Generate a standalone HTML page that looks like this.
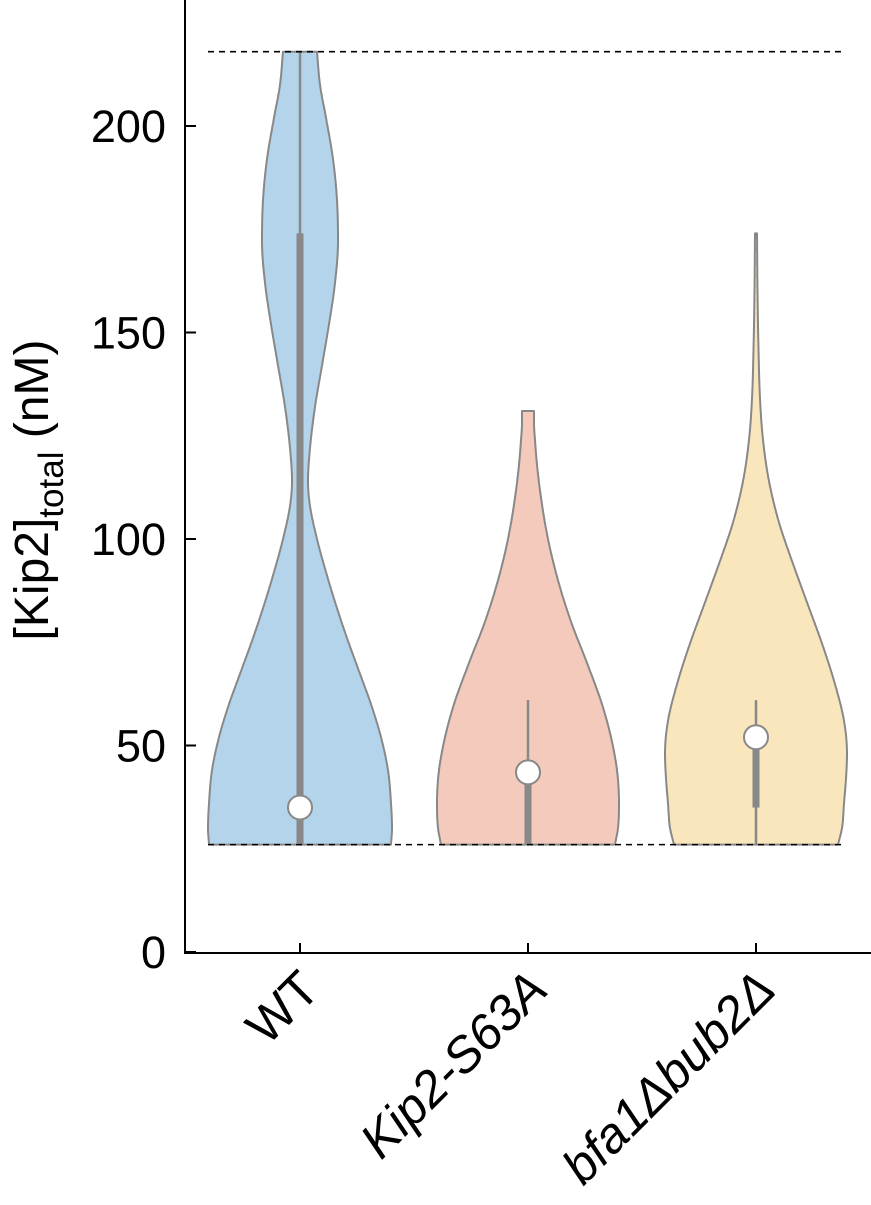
<!DOCTYPE html>
<html><head><meta charset="utf-8"><style>
html,body{margin:0;padding:0;background:#fff;}
svg{display:block;font-family:"Liberation Sans","DejaVu Sans",sans-serif;}
</style></head><body>
<svg id="chart" width="871" height="1205" viewBox="0 0 871 1205" xmlns="http://www.w3.org/2000/svg">
<g id="grid"></g>
<g id="axes"></g>
<text transform="translate(48,490) rotate(-90)" text-anchor="middle" font-size="48" fill="#000">[Kip2]<tspan font-size="35" dy="15">total</tspan><tspan dy="-15"> (nM)</tspan></text>
</svg>
<script>
const categories = ["WT","Kip2-S63A","bfa1\u0394bub2\u0394"];
const colors = ["#b3d4ea","#f3cabb","#f9e6bd"];
const wtVals = [26,30,36,44,52,60,68,76,84,92,100,108,114,122,132,142,152,162,172,182,192,202,210,218];
const wtW    = [91,92,91,88,81,71,59,47,36,26,17,10,8,10,15,22,29,35,38,37,33,26,20,17];
const kipVals = [26,30,36,44,52,60,70,80,90,100,110,118,124,128,131];
const kipW    = [87,90,91,89,83,74,59,43,30,20,13,9,7,6,6];
const bfaVals = [26,30,36,42,48,56,64,74,84,94,104,114,124,134,146,160,174];
const bfaW    = [82,86,88,90,91,88,80,67,52,37,23,13,7,4,2.5,1.5,1];
const medians = [35,43.5,52];
const q1 = [26,26,35];
const q3 = [174,43,52];
const whiskLo = [26,26,26];
const whiskHi = [218,61,61];
const yTicks = [0,50,100,150,200];
const refLines = [218,26];

const svg = document.getElementById('chart');
const layer = document.getElementById('grid');
const axes = document.getElementById('axes');
const NS = 'http://www.w3.org/2000/svg';
const y = v => 952 - v * 4.13;
const x = i => 300 + i * 228;
function mk(tag, attrs, parent){const e=document.createElementNS(NS,tag);for(const k in attrs)e.setAttribute(k,attrs[k]);(parent||svg).appendChild(e);return e;}

function interp(xs, ys){
  const n=xs.length, d=[], m=[];
  for(let i=0;i<n-1;i++) d.push((ys[i+1]-ys[i])/(xs[i+1]-xs[i]));
  m[0]=d[0]; m[n-1]=d[n-2];
  for(let i=1;i<n-1;i++){ m[i]=(d[i-1]*d[i]<=0)?0:(d[i-1]+d[i])/2; }
  return t=>{
    let i=0; while(i<n-2 && t>xs[i+1]) i++;
    const h=xs[i+1]-xs[i], s=(t-xs[i])/h;
    const h00=2*s*s*s-3*s*s+1,h10=s*s*s-2*s*s+s,h01=-2*s*s*s+3*s*s,h11=s*s*s-s*s;
    return h00*ys[i]+h10*h*m[i]+h01*ys[i+1]+h11*h*m[i+1];
  };
}
const profiles = [[wtVals,wtW],[kipVals,kipW],[bfaVals,bfaW]];
profiles.forEach((p,i)=>{
  const [vals,w]=p, cx=x(i), f=interp(vals,w);
  const lo=vals[0], hi=vals[vals.length-1], R=[], L=[];
  for(let v=lo; v<=hi+1e-9; v+=0.25){ const ww=Math.max(f(Math.min(v,hi)),0.5); R.push([cx+ww,y(v)]); L.push([cx-ww,y(v)]); }
  let d='M'+R.map(q=>q[0].toFixed(1)+','+q[1].toFixed(1)).join(' L')+' L'+L.reverse().map(q=>q[0].toFixed(1)+','+q[1].toFixed(1)).join(' L')+'Z';
  const v=mk('path',{d,fill:colors[i],stroke:'#888',"stroke-width":2,"stroke-linejoin":"round"},layer);
  
  
  const wl=mk('line',{x1:cx,x2:cx,y1:y(whiskLo[i]),y2:y(whiskHi[i]),stroke:'#888',"stroke-width":2.5},layer);
  
  
  const bx=mk('line',{x1:cx,x2:cx,y1:y(q1[i]),y2:y(q3[i]),stroke:'#888',"stroke-width":7},layer);
  
  
  const c=mk('circle',{cx,cy:y(medians[i]),r:12,fill:'#fff',stroke:'#888',"stroke-width":2},layer);
  
  
});
refLines.forEach((v,k)=>{
  const l=mk('line',{x1:208,x2:842,y1:y(v),y2:y(v),stroke:'#000',"stroke-width":1.6,"stroke-dasharray":"6,5"},layer);
  
  
});
const ya=mk('line',{x1:185,x2:185,y1:0,y2:953,stroke:'#000',"stroke-width":2},axes);


const xa=mk('line',{x1:184,x2:871,y1:953,y2:953,stroke:'#000',"stroke-width":2},axes);


yTicks.forEach(t=>{
  const tk=mk('line',{x1:185,x2:196,y1:y(t),y2:y(t),stroke:'#000',"stroke-width":2},axes);
  
  
  const tl=mk('text',{x:166,y:y(t)+16,"text-anchor":"end","font-size":45},axes);
  tl.textContent=t;
  
  
});
categories.forEach((c,i)=>{
  const tk=mk('line',{x1:x(i),x2:x(i),y1:953,y2:943,stroke:'#000',"stroke-width":2},axes);
  
  
  const tl=mk('text',{transform:`translate(${x(i)+22},${992}) rotate(-45)`,"text-anchor":"end","font-size":50,"font-style":i===0?'normal':'italic'},axes);
  tl.textContent=c;
  
  
});
</script>
</body></html>
